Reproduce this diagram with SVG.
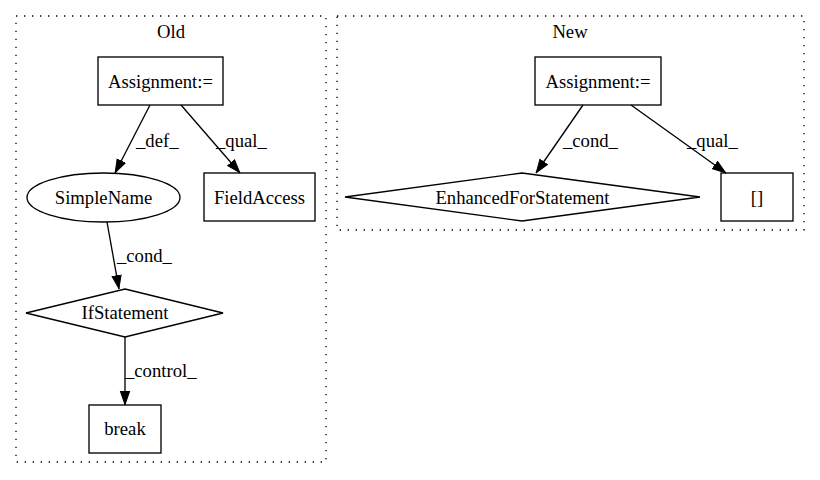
<svg xmlns="http://www.w3.org/2000/svg" width="820" height="480" viewBox="0 0 820 480">
<style>
text{font-family:'Liberation Serif','Times New Roman',serif;font-size:18.67px;fill:#000}
.n{fill:none;stroke:#000;stroke-width:1.33}
.c{fill:none;stroke:#000;stroke-width:1.33;stroke-dasharray:1.33,6.67}
.e{fill:none;stroke:#000;stroke-width:1.33;marker-end:url(#ah)}
.m{text-anchor:middle}
</style>
<defs>
<marker id="ah" markerUnits="userSpaceOnUse" markerWidth="14" markerHeight="12" viewBox="0 0 13 9.33" refX="13" refY="4.67" orient="auto">
<path d="M0.5,0.5 L12.5,4.67 L0.5,8.83 Z" fill="#000" stroke="#000" stroke-width="1"/>
</marker>
</defs>
<rect width="820" height="480" fill="#fff"/>
<g id="cluster_old">
<rect class="c" x="16" y="16" width="310" height="446"/>
<text class="m" x="171" y="38">Old</text>
</g>
<g id="cluster_new">
<rect class="c" x="337" y="16" width="467" height="214"/>
<text class="m" x="570" y="38">New</text>
</g>
<g id="connectors">
<path class="e" d="M150,105 L115,173"/>
<text x="136" y="147">_def_</text>
<path class="e" d="M181,105 L240,173"/>
<text x="216" y="147">_qual_</text>
<path class="e" d="M107,222 L119,289"/>
<text x="117" y="262">_cond_</text>
<path class="e" d="M125,337 L125,405"/>
<text x="125" y="377">_control_</text>
<path class="e" d="M583,105 L536,173"/>
<text x="563" y="147">_cond_</text>
<path class="e" d="M631,105 L726,173"/>
<text x="687" y="147">_qual_</text>
</g>
<g id="old_assign">
<rect class="n" x="98" y="57" width="125" height="48"/>
<text class="m" x="160.5" y="87.5">Assignment:=</text>
</g>
<g id="simplename">
<ellipse class="n" cx="103.5" cy="197.5" rx="76.5" ry="24.5"/>
<text class="m" x="103.5" y="203.5">SimpleName</text>
</g>
<g id="fieldaccess">
<rect class="n" x="204" y="173" width="111" height="48"/>
<text class="m" x="259.5" y="203.5">FieldAccess</text>
</g>
<g id="ifstatement">
<polygon class="n" points="125,289 223,313 125,337 26,313"/>
<text class="m" x="125" y="319">IfStatement</text>
</g>
<g id="break">
<rect class="n" x="89" y="405" width="72" height="48"/>
<text class="m" x="125" y="435">break</text>
</g>
<g id="new_assign">
<rect class="n" x="535" y="57" width="126" height="48"/>
<text class="m" x="598" y="87.5">Assignment:=</text>
</g>
<g id="enhancedfor">
<polygon class="n" points="522,173 700,197 522,221 345,197"/>
<text class="m" x="522.5" y="203.5">EnhancedForStatement</text>
</g>
<g id="brackets">
<rect class="n" x="721" y="173" width="72" height="48"/>
<text class="m" x="757" y="203.5">[]</text>
</g>
</svg>
